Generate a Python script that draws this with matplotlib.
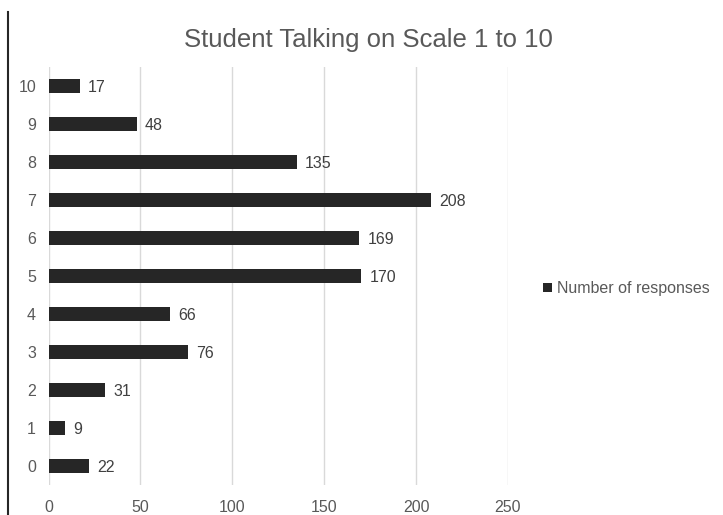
import matplotlib.pyplot as plt
from matplotlib.lines import Line2D

plt.rcParams['font.family'] = ['Liberation Sans', 'DejaVu Sans']

# Survey answers: how much the student talks, rated 0-10
scores = ['0', '1', '2', '3', '4', '5', '6', '7', '8', '9', '10']
responses = [22, 9, 31, 76, 66, 170, 169, 208, 135, 48, 17]

BAR_COLOR = '#262626'
TEXT_COLOR = '#595959'

fig = plt.figure(figsize=(7.23, 5.15), dpi=100)
ax = fig.add_axes([0.0671, 0.0583, 0.6355, 0.8116])

pos = list(range(len(scores)))
bars = ax.barh(pos, responses, height=0.36, color=BAR_COLOR,
               label='Number of responses', zorder=3)

for y, v in zip(pos, responses):
    ax.annotate(str(v), xy=(v, y), xytext=(6, -0.8), textcoords='offset points',
                va='center', ha='left', fontsize=11.5, color='#404040')

ax.set_xlim(0, 250)
ax.set_ylim(-0.5, len(scores) - 0.5)
ax.set_xticks(range(0, 251, 50))
ax.set_yticks(pos)
ax.set_yticklabels(scores)
ax.tick_params(length=0, labelsize=11.5, labelcolor=TEXT_COLOR)
ax.tick_params(axis='x', pad=11)
ax.tick_params(axis='y', pad=9)
ax.grid(axis='x', color='#d9d9d9', linewidth=1, zorder=0)
for s in ax.spines.values():
    s.set_visible(False)

fig.text(0.51, 0.922, 'Student Talking on Scale 1 to 10', ha='center',
         va='center', fontsize=18.5, color=TEXT_COLOR)

ax.legend(loc='center left', bbox_to_anchor=(1.045, 0.47), frameon=False,
          fontsize=11.5, labelcolor=TEXT_COLOR, handlelength=0.55,
          handleheight=0.55, handletextpad=0.3)

# dark rule along the left edge
fig.add_artist(Line2D([0.011, 0.011], [0, 0.977], color='#262626',
                      linewidth=1.5, transform=fig.transFigure))

fig.savefig('out.png', dpi=100)
